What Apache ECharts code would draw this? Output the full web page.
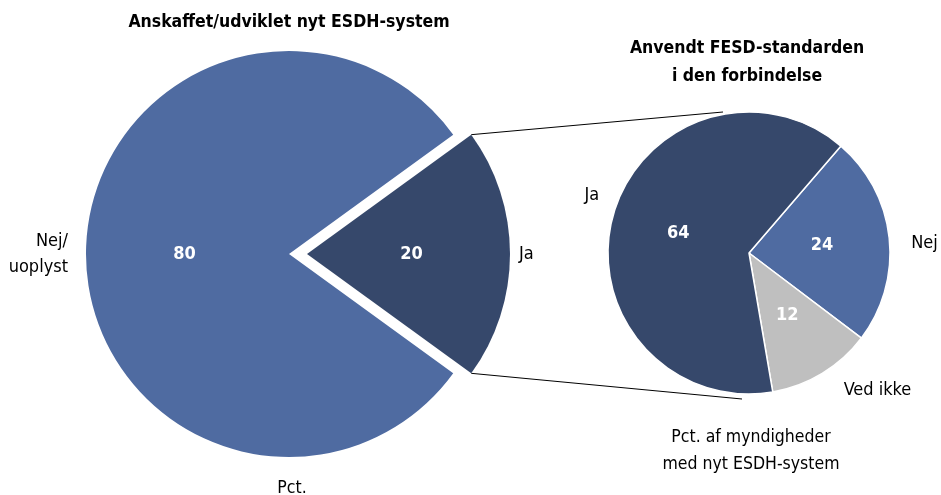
<!DOCTYPE html>
<html>
<head>
<meta charset="utf-8">
<script src="https://cdn.jsdelivr.net/npm/echarts@6/dist/echarts.min.js"></script>
<style>
  html, body { margin: 0; padding: 0; background: #fff; }
  #container1 { width: 941px; height: 495px; }
</style>
</head>
<body>
<div id="container1"></div>
<script>
// data
var leftNames = ['Ja', 'Nej/\nuoplyst'];
var leftValues = [20, 80];
var rightNames = ['Nej', 'Ved ikke', 'Ja'];
var rightValues = [24, 12, 64];

var leftTitle = 'Anskaffet/udviklet nyt ESDH-system';
var rightTitle = 'Anvendt FESD-standarden\ni den forbindelse';
var leftUnit = 'Pct.';
var rightUnit = 'Pct. af myndigheder\nmed nyt ESDH-system';

var FONT = '"DejaVu Sans Condensed", "DejaVu Sans", sans-serif';
var BLUE = '#4f6ba1';
var NAVY = '#36486b';
var GREY = '#bfbfbf';

// geometry
var lc = [289, 254], lr = 203, lOff = 18, lStart = 36;
var rc = [749, 253], rr = 141, rStart = 49.3;

var dom = document.getElementById('container1');
var myChart = echarts.init(dom);

var leftColors = [NAVY, BLUE];
var rightColors = [BLUE, GREY, NAVY];

// label line lengths for the name labels (per slice)
var leftLines = [[0, 4], [0, 13]];
var rightLines = [[0, 17], [20, 6], [0, 9]];
var rightShift = [5, 0, -20];

function valueData(names, values, colors, selIdx) {
    return values.map(function (v, i) {
        return { name: names[i], value: v, itemStyle: { color: colors[i] }, selected: i === selIdx };
    });
}
function nameData(names, values, lines, selIdx) {
    return values.map(function (v, i) {
        return {
            name: names[i], value: v, selected: i === selIdx,
            labelLine: { show: false, length: lines[i][0], length2: lines[i][1] }
        };
    });
}

var a = lStart * Math.PI / 180;
var p1 = [lc[0] + lOff + lr * Math.cos(a), lc[1] - lr * Math.sin(a)];
var p2 = [lc[0] + lOff + lr * Math.cos(a), lc[1] + lr * Math.sin(a)];
var q1 = [rc[0] - 26, rc[1] - rr];
var q2 = [rc[0] - 7, rc[1] + rr + 5];

var basePie = {
    type: 'pie',
    clockwise: true,
    selectedMode: 'single',
    avoidLabelOverlap: false,
    emphasis: { disabled: true },
    select: { itemStyle: { borderWidth: 0 } },
    animation: false
};

option = {
    animation: false,
    series: [
        Object.assign({}, basePie, {
            center: lc, radius: lr, startAngle: lStart, selectedOffset: lOff,
            data: valueData(leftNames, leftValues, leftColors, 0),
            label: { position: 'inside', formatter: '{c}', color: '#fff', fontWeight: 'bold', fontSize: 18, fontFamily: FONT },
            labelLine: { show: false }
        }),
        Object.assign({}, basePie, {
            center: lc, radius: lr, startAngle: lStart, selectedOffset: lOff, silent: true,
            itemStyle: { color: 'rgba(0,0,0,0)' },
            data: nameData(leftNames, leftValues, leftLines, 0),
            label: { position: 'outside', formatter: '{b}', color: '#000', fontSize: 18, lineHeight: 26, fontFamily: FONT, distanceToLabelLine: 5 }
        }),
        Object.assign({}, basePie, {
            center: rc, radius: rr, startAngle: rStart,
            itemStyle: { borderColor: '#fff', borderWidth: 1.5 },
            data: valueData(rightNames, rightValues, rightColors, -1),
            label: { position: 'inside', formatter: '{c}', color: '#fff', fontWeight: 'bold', fontSize: 18, fontFamily: FONT },
            labelLine: { show: false }
        }),
        Object.assign({}, basePie, {
            center: rc, radius: rr, startAngle: rStart, silent: true,
            itemStyle: { color: 'rgba(0,0,0,0)' },
            data: nameData(rightNames, rightValues, rightLines, -1),
            label: { position: 'outside', formatter: '{b}', color: '#000', fontSize: 18, lineHeight: 26, fontFamily: FONT, distanceToLabelLine: 5 },
            labelLayout: function (p) {
                return { dy: rightShift[p.dataIndex] };
            }
        })
    ],
    graphic: [
        { type: 'line', silent: true, shape: { x1: p1[0], y1: p1[1], x2: q1[0], y2: q1[1] }, style: { stroke: '#000', lineWidth: 1 } },
        { type: 'line', silent: true, shape: { x1: p2[0], y1: p2[1], x2: q2[0], y2: q2[1] }, style: { stroke: '#000', lineWidth: 1 } },
        { type: 'text', x: 289, y: 22, style: { text: leftTitle, align: 'center', verticalAlign: 'middle', font: 'bold 17.5px ' + FONT, fill: '#000' } },
        { type: 'text', x: 747, y: 62, style: { text: rightTitle, align: 'center', verticalAlign: 'middle', font: 'bold 17.5px ' + FONT, lineHeight: 28, fill: '#000' } },
        { type: 'text', x: 292, y: 488, style: { text: leftUnit, align: 'center', verticalAlign: 'middle', font: '17.5px ' + FONT, fill: '#000' } },
        { type: 'text', x: 751, y: 451, style: { text: rightUnit, align: 'center', verticalAlign: 'middle', font: '17.5px ' + FONT, lineHeight: 27, fill: '#000' } }
    ]
};

if (option && typeof option === "object") {
    myChart.setOption(option, true);
}
</script>
</body>
</html>
